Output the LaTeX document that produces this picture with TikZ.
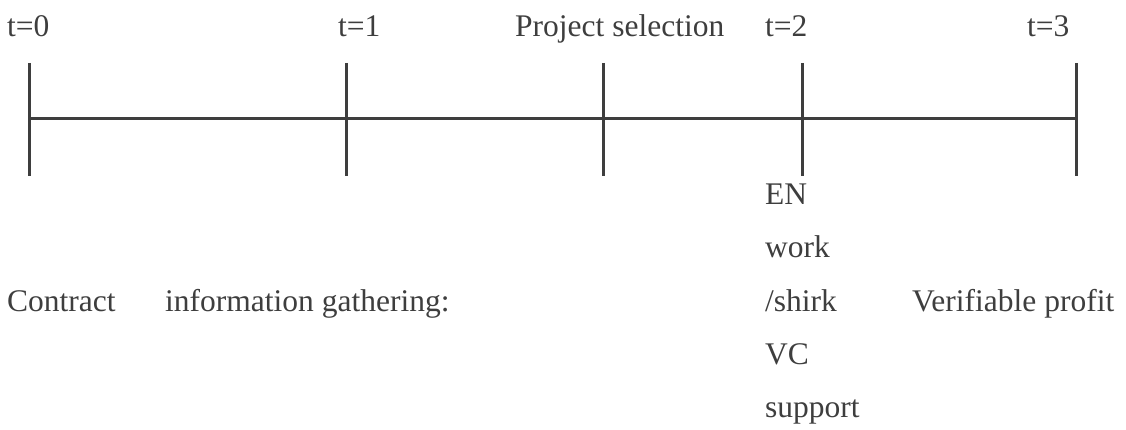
\documentclass[tikz,border=0pt]{standalone}
\usepackage{fontspec}
\setmainfont{Liberation Serif}
\definecolor{ink}{HTML}{3E3E3E}
\begin{document}
\begin{tikzpicture}[x=1pt,y=-1pt,
  lbl/.style={anchor=base west, inner sep=0pt, text=ink,
              font=\fontsize{31.5}{36}\selectfont},
  axisline/.style={draw=ink, line width=3pt}]
\useasboundingbox (0,0) rectangle (1126,430);

% time marks on the axis
\foreach \n/\x in {a/29, b/346, c/603, d/802, e/1076}{
  \coordinate (\n) at (\x,119);
  \coordinate (\n top) at (\x,63);
  \coordinate (\n bot) at (\x,176);
}
\draw[axisline] (a) -- (b) -- (c) -- (d) -- (e);
\foreach \n in {a,b,c,d,e}
  \draw[axisline] (\n top) -- (\n bot);

% labels above the axis
\node[lbl] (t0)  at (7,37)    {t=0};
\node[lbl] (t1)  at (338,37)  {t=1};
\node[lbl] (sel) at (515,37)  {Project selection};
\node[lbl] (t2)  at (765,37)  {t=2};
\node[lbl] (t3)  at (1027,37) {t=3};

% labels below the axis
\node[lbl] (contract) at (7,311)   {Contract};
\node[lbl] (info)     at (165,311) {information gathering:};
\node[lbl] (en)       at (765,205) {EN};
\node[lbl] (work)     at (765,258) {work};
\node[lbl] (shirk)    at (765,311) {/shirk};
\node[lbl] (vc)       at (765,364) {VC};
\node[lbl] (support)  at (765,417) {support};
\node[lbl] (profit)   at (912,311) {Verifiable profit};
\end{tikzpicture}
\end{document}
